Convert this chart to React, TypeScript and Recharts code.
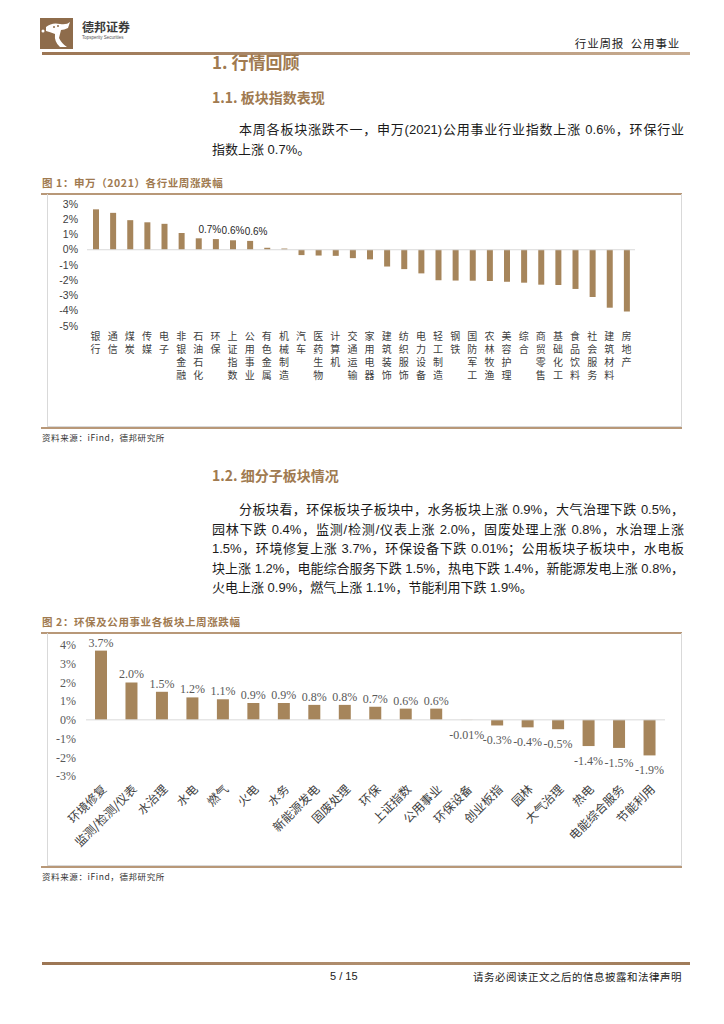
import React from "react";
import { BarChart, Bar, XAxis, YAxis, ReferenceLine, LabelList } from "recharts";

// 图1：申万一级行业周涨跌幅（%）
const industryNames = [
  "银行", "通信", "煤炭", "传媒", "电子", "非银金融", "石油石化", "环保",
  "上证指数", "公用事业", "有色金属", "机械制造", "汽车", "医药生物", "计算机", "交通运输",
  "家用电器", "建筑装饰", "纺织服饰", "电力设备", "轻工制造", "钢铁", "国防军工", "农林牧渔",
  "美容护理", "综合", "商贸零售", "基础化工", "食品饮料", "社会服务", "建筑材料", "房地产",
];
const industryChange = [
  2.65, 2.42, 1.94, 1.8, 1.7, 1.1, 0.75, 0.7,
  0.62, 0.58, 0.13, 0.08, -0.35, -0.38, -0.4, -0.55,
  -0.63, -1.1, -1.27, -1.55, -2.0, -2.02, -2.03, -2.05,
  -2.1, -2.16, -2.29, -2.31, -2.57, -3.1, -3.8, -4.05,
];
const industryTicks = [-5, -4, -3, -2, -1, 0, 1, 2, 3];
const labelledIndustries = ["环保", "上证指数", "公用事业"];

// 图2：环保及公用事业各板块上周涨跌幅（%）
const sectorNames = [
  "环境修复", "监测/检测/仪表", "水治理", "水电", "燃气", "火电", "水务", "新能源发电",
  "固废处理", "环保", "上证指数", "公用事业", "环保设备", "创业板指", "园林", "大气治理",
  "热电", "电能综合服务", "节能利用",
];
const sectorChange = [
  3.7, 2.0, 1.5, 1.2, 1.1, 0.9, 0.9, 0.8,
  0.8, 0.7, 0.6, 0.6, -0.01, -0.3, -0.4, -0.5,
  -1.4, -1.5, -1.9,
];
const sectorTicks = [-3, -2, -1, 0, 1, 2, 3, 4];

const industryData = industryNames.map((name, i) => ({ name, value: industryChange[i] }));
const sectorData = sectorNames.map((name, i) => ({ name, value: sectorChange[i] }));

const BAR = "#A6855B";
const BROWN = "#A07A50";
const SANS = "'Liberation Sans', Arial, 'Noto Sans CJK SC', sans-serif";
const SERIF = "'Liberation Serif', 'Times New Roman', 'Noto Sans CJK SC', serif";
const CJK = "'Noto Sans CJK SC', 'Liberation Sans', sans-serif";

function VerticalTick({ x, y, payload }: any) {
  const chars = String(payload.value).split("");
  return (
    <text x={x} y={y + 14} textAnchor="middle" fontSize={10} fill="#404040" fontFamily={CJK}>
      {chars.map((c, i) => (
        <tspan key={i} x={x} dy={i === 0 ? 0 : 13}>
          {c}
        </tspan>
      ))}
    </text>
  );
}

function SlantTick({ x, y, payload }: any) {
  return (
    <text
      transform={`translate(${x + 6},${y + 14}) rotate(-45)`}
      textAnchor="end"
      fontSize={12}
      fill="#404040"
      fontFamily={CJK}
    >
      {payload.value}
    </text>
  );
}

function IndustryLabel(props: any) {
  const { x, y, width, height, value, index } = props;
  const k = labelledIndustries.indexOf(industryNames[index]);
  if (k < 0) return null;
  const top = Math.min(y, y + height);
  const shift = [-6, 0, 6][k];
  return (
    <text x={x + width / 2 + shift} y={top - 6} textAnchor="middle" fontSize={10} fill="#262626" fontFamily={SANS}>
      {`${Number(value).toFixed(1)}%`}
    </text>
  );
}

function SectorLabel(props: any) {
  const { x, y, width, height, value } = props;
  const v = Number(value);
  const top = Math.min(y, y + height);
  const bottom = Math.max(y, y + height);
  const txt = (Math.abs(v) < 0.1 ? v.toFixed(2) : v.toFixed(1)) + "%";
  return (
    <text
      x={x + width / 2}
      y={v >= 0 ? top - 4 : bottom + 19}
      textAnchor="middle"
      fontSize={12}
      fill="#595959"
      fontFamily={SERIF}
    >
      {txt}
    </text>
  );
}

function Line({ cy, text, indent = 0, last = false }: { cy: number; text: string; indent?: number; last?: boolean }) {
  return (
    <div
      style={{
        position: "absolute",
        left: 212 + indent,
        top: cy - 10,
        width: 472 - indent,
        height: 20,
        lineHeight: "20px",
        fontSize: 13,
        color: "#1a1a1a",
        fontFamily: SANS,
        textAlign: "justify",
        textAlignLast: last ? "left" : "justify",
        whiteSpace: "nowrap",
      }}
    >
      {text}
    </div>
  );
}

function Abs({ left, right, cy, size, children, style }: any) {
  return (
    <div
      style={{
        position: "absolute",
        left,
        right,
        top: cy - size,
        height: size * 2,
        lineHeight: `${size * 2}px`,
        fontSize: size,
        whiteSpace: "nowrap",
        ...style,
      }}
    >
      {children}
    </div>
  );
}

function Rule({ left, top, width, height, color }: any) {
  return <div style={{ position: "absolute", left, top, width, height, background: color }} />;
}

function FigureFrame({ top, bottom, title }: { top: number; bottom: number; title: string }) {
  return (
    <>
      <Abs left={42} cy={top - 11} size={10.5} style={{ color: BROWN, fontWeight: 700, fontFamily: CJK, letterSpacing: 0.6 }}>
        {title}
      </Abs>
      <Rule left={41} top={top} width={641} height={1.5} color="#B89878" />
      <div
        style={{
          position: "absolute",
          left: 47,
          top: top + 1,
          width: 633,
          height: bottom - top - 1,
          borderLeft: "1px solid #D9D9D9",
          borderRight: "1px solid #D9D9D9",
          borderBottom: "1px solid #D9D9D9",
        }}
      />
      <Rule left={41} top={bottom + 1} width={641} height={1.5} color="#B89878" />
      <Abs left={42} cy={bottom + 11} size={8.5} style={{ color: "#333", fontFamily: CJK, letterSpacing: 0.6 }}>
        资料来源：iFind，德邦研究所
      </Abs>
    </>
  );
}

export default function App() {
  return (
    <div
      style={{
        position: "absolute",
        left: 0,
        top: 0,
        width: 724,
        height: 1024,
        background: "#fff",
        overflow: "hidden",
        fontFamily: CJK,
      }}
    >
      {/* header */}
      <svg style={{ position: "absolute", left: 40, top: 18 }} width={33} height={31}>
        <rect x={0} y={0} width={33} height={31} fill="#8E6C4B" />
        <path d="M6 9 Q12 4 20 6 Q27 7 30 4 L28 10 Q24 12 21 12 L19 20 Q22 26 27 29 L20 29 Q14 24 15 16 Q10 14 6 13 Z" fill="#fff" />
        <circle cx={3} cy={13} r={1.5} fill="#fff" />
        <circle cx={14} cy={9} r={1} fill="#8E6C4B" />
        <circle cx={18} cy={8} r={1} fill="#8E6C4B" />
      </svg>
      <Abs left={82} cy={27} size={12} style={{ color: "#3a3a3a", fontWeight: 700, fontFamily: CJK }}>
        德邦证券
      </Abs>
      <Abs left={82} cy={37.5} size={4.5} style={{ color: "#555", fontFamily: SANS }}>
        Topsperity Securities
      </Abs>
      <Abs right={44} cy={43} size={11.5} style={{ color: "#222", fontFamily: CJK, letterSpacing: 0.8 }}>
        行业周报&nbsp;&nbsp;公用事业
      </Abs>
      <div
        style={{
          position: "absolute",
          left: 42,
          top: 52,
          width: 648,
          height: 2.5,
          background: "linear-gradient(90deg, #9C7654, #B59679 60%, #C9AD92)",
        }}
      />

      {/* section 1 */}
      <Abs left={212} cy={62} size={17} style={{ color: BROWN, fontWeight: 700, fontFamily: CJK }}>
        1. 行情回顾
      </Abs>
      <Abs left={212} cy={97} size={14} style={{ color: BROWN, fontWeight: 700, fontFamily: CJK }}>
        1.1. 板块指数表现
      </Abs>
      <Line cy={130} indent={27} text="本周各板块涨跌不一，申万(2021)公用事业行业指数上涨 0.6%，环保行业" />
      <Line cy={150} last text="指数上涨 0.7%。" />

      <FigureFrame top={193} bottom={426} title="图 1：申万（2021）各行业周涨跌幅" />
      <div style={{ position: "absolute", left: 0, top: 193 }}>
        <BarChart width={682} height={232} data={industryData} margin={{ top: 11, right: 47, left: 0, bottom: 0 }}>
          <XAxis
            dataKey="name"
            interval={0}
            axisLine={false}
            tickLine={false}
            tickSize={0}
            tickMargin={0}
            height={99}
            tick={VerticalTick}
          />
          <YAxis
            type="number"
            domain={[-5, 3]}
            ticks={industryTicks}
            interval={0}
            width={87}
            axisLine={false}
            tickLine={false}
            tickSize={0}
            tickMargin={9}
            tickFormatter={(v) => `${v}%`}
            tick={{ fontSize: 10.5, fill: "#404040", fontFamily: SANS }}
          />
          <ReferenceLine y={0} stroke="#D9D9D9" strokeWidth={1} />
          <Bar dataKey="value" fill={BAR} barSize={6} isAnimationActive={false}>
            <LabelList dataKey="value" content={IndustryLabel} />
          </Bar>
        </BarChart>
      </div>

      {/* section 1.2 */}
      <Abs left={212} cy={475} size={14} style={{ color: BROWN, fontWeight: 700, fontFamily: CJK }}>
        1.2. 细分子板块情况
      </Abs>
      <Line cy={510} indent={27} text="分板块看，环保板块子板块中，水务板块上涨 0.9%，大气治理下跌 0.5%，" />
      <Line cy={529.5} text="园林下跌 0.4%，监测/检测/仪表上涨 2.0%，固废处理上涨 0.8%，水治理上涨" />
      <Line cy={549} text="1.5%，环境修复上涨 3.7%，环保设备下跌 0.01%；公用板块子板块中，水电板" />
      <Line cy={568.5} text="块上涨 1.2%，电能综合服务下跌 1.5%，热电下跌 1.4%，新能源发电上涨 0.8%，" />
      <Line cy={588} last text="火电上涨 0.9%，燃气上涨 1.1%，节能利用下跌 1.9%。" />

      <FigureFrame top={632} bottom={865} title="图 2：环保及公用事业各板块上周涨跌幅" />
      <div style={{ position: "absolute", left: 0, top: 632 }}>
        <BarChart width={682} height={234} data={sectorData} margin={{ top: 13, right: 17, left: 0, bottom: 0 }}>
          <XAxis
            dataKey="name"
            interval={0}
            axisLine={false}
            tickLine={false}
            tickSize={0}
            tickMargin={0}
            height={90}
            tick={SlantTick}
          />
          <YAxis
            type="number"
            domain={[-3, 4]}
            ticks={sectorTicks}
            interval={0}
            width={86}
            axisLine={false}
            tickLine={false}
            tickSize={0}
            tickMargin={10}
            tickFormatter={(v) => `${v}%`}
            tick={{ fontSize: 12, fill: "#595959", fontFamily: SERIF }}
          />
          <ReferenceLine y={0} stroke="#D9D9D9" strokeWidth={1} />
          <Bar dataKey="value" fill={BAR} barSize={12} isAnimationActive={false}>
            <LabelList dataKey="value" content={SectorLabel} />
          </Bar>
        </BarChart>
      </div>

      {/* footer */}
      <div
        style={{
          position: "absolute",
          left: 42,
          top: 962,
          width: 648,
          height: 3,
          background: "linear-gradient(90deg, #9C7654, #B08E6E 50%, #A07C5A)",
        }}
      />
      <Abs left={330} cy={976} size={11} style={{ color: "#222", fontFamily: SANS }}>
        5 / 15
      </Abs>
      <Abs right={42} cy={976} size={10.5} style={{ color: "#222", fontFamily: CJK, letterSpacing: 0.5 }}>
        请务必阅读正文之后的信息披露和法律声明
      </Abs>
    </div>
  );
}
